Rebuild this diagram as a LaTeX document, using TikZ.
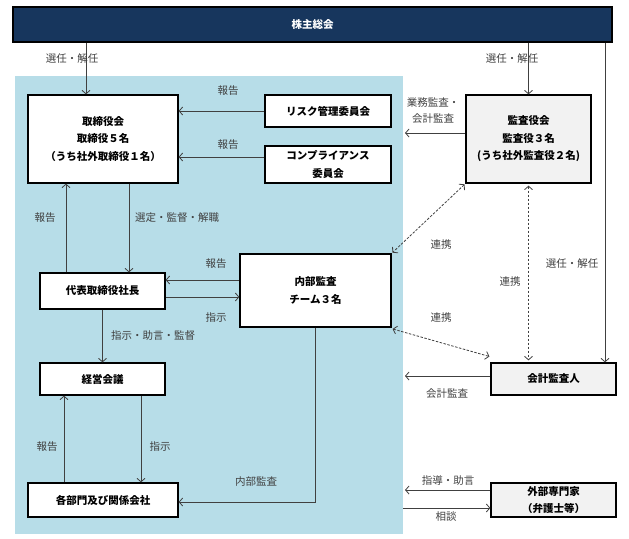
\documentclass[tikz,border=0pt]{standalone}
\usepackage{fontspec}
\setmainfont{Noto Sans CJK JP}
\usetikzlibrary{arrows.meta}

\definecolor{navy}{HTML}{17365D}
\definecolor{pale}{HTML}{B7DDE8}
\definecolor{boxgray}{HTML}{F2F2F2}
\definecolor{linegray}{HTML}{404040}

\begin{document}
\begin{tikzpicture}[x=1pt,y=-1pt,
        box/.style={draw=black,line width=1.3pt,fill=white,inner sep=0pt,align=center,
            font=\fontsize{10.5}{17.5}\selectfont\bfseries},
        graybox/.style={box,fill=boxgray},
        lbl/.style={inner sep=0pt,align=center,text=linegray,font=\fontsize{10.5}{16}\selectfont},
        arr/.style={draw=linegray,line width=0.8pt,-{Straight Barb[length=3.5pt,width=8pt]}},
        link/.style={draw=linegray,line width=0.8pt,dash pattern=on 2.5pt off 1.5pt,
            {Straight Barb[length=3.5pt,width=8pt]}-{Straight Barb[length=3.5pt,width=8pt]}}]

    % 画面の大きさ
    \useasboundingbox (0,0) rectangle (629,538);

    % 青い背景 (社内)
    \fill[pale] (15,76) rectangle (403,534);
    \coordinate (rim) at (405,0);
    \coordinate (rimL) at (403,0);

    % 株主総会
    \node[box,fill=navy,text=white,minimum width=599pt,minimum height=35pt] (soukai) at (312.5,24.5) {株主総会};

    % 箱
    \node[box,minimum width=150pt,minimum height=88pt] (board) at (103,139) {取締役会\\取締役５名\\（うち社外取締役１名）};
    \node[box,minimum width=126pt,minimum height=32pt] (risk) at (328,111) {リスク管理委員会};
    \node[box,minimum width=126pt,minimum height=37pt] (comp) at (328,164.5) {コンプライアンス\\委員会};
    \node[graybox,minimum width=125pt,minimum height=88pt] (kansa) at (528.5,139) {監査役会\\監査役３名\\(うち社外監査役２名)};
    \node[box,minimum width=125pt,minimum height=36pt] (ceo) at (102.5,291) {代表取締役社長};
    \node[box,minimum width=151pt,minimum height=73pt] (naibu) at (315.5,290.5) {内部監査\\チーム３名};
    \node[box,minimum width=125pt,minimum height=32pt] (keiei) at (102.5,379) {経営会議};
    \node[box,minimum width=150pt,minimum height=34pt] (bumon) at (103,500) {各部門及び関係会社};
    \node[graybox,minimum width=125pt,minimum height=32pt] (kaikei) at (553.5,379) {会計監査人};
    \node[graybox,minimum width=125pt,minimum height=34pt] (gaibu) at (553.5,500) {外部専門家\\（弁護士等）};

    % 株主総会からの矢印
    \draw[arr] ([xshift=-17pt]board.north |- soukai.south) -- ([xshift=-17pt]board.north);
    \draw[arr] (kansa.north |- soukai.south) -- (kansa.north);
    \draw[arr] ([xshift=51.5pt]kaikei.north |- soukai.south) -- ([xshift=51.5pt]kaikei.north);

    % 委員会 -> 取締役会
    \draw[arr] (risk.west) -- (risk.west -| board.east);
    \draw[arr] ([yshift=7.5pt]comp.west) -- ([yshift=7.5pt]comp.west -| board.east);

    % 監査役会 -> 社内
    \draw[arr] ([yshift=6pt]kansa.west) -- ([yshift=6pt]kansa.west -| rim);

    % 取締役会 <-> 社長
    \draw[arr] ([xshift=26pt]board.south) -- ([xshift=26pt]board.south |- ceo.north);
    \draw[arr] ([xshift=-37pt]board.south |- ceo.north) -- ([xshift=-37pt]board.south);

    % 社長 <-> 内部監査
    \draw[arr] ([yshift=10.5pt]naibu.west) -- ([yshift=10.5pt]naibu.west -| ceo.east);
    \draw[arr] ([yshift=-6.5pt]naibu.west -| ceo.east) -- ([yshift=-6.5pt]naibu.west);

    % 社長 -> 経営会議 <-> 各部門
    \draw[arr] (ceo.south) -- (keiei.north);
    \draw[arr] ([xshift=38.5pt]keiei.south) -- ([xshift=38.5pt]keiei.south |- bumon.north);
    \draw[arr] ([xshift=-38.5pt]keiei.south |- bumon.north) -- ([xshift=-38.5pt]keiei.south);

    % 内部監査 -> 各部門
    \draw[arr] (naibu.south) |- ([yshift=-2pt]bumon.east);

    % 連携 (点線)
    \draw[link,shorten <=1pt,shorten >=1pt] (kansa.south west) -- (naibu.north east);
    \draw[link,shorten <=2pt,shorten >=2pt] (kansa.south) -- (kansa.south |- kaikei.north);
    \draw[link,shorten <=1pt,shorten >=3pt] ([yshift=-1pt]naibu.south east) -- ([xshift=2pt,yshift=5pt]kaikei.north west);

    % 会計監査人・外部専門家
    \draw[arr] ([yshift=3pt]kaikei.west) -- ([yshift=3pt]kaikei.west -| rim);
    \draw[arr] ([yshift=10pt]gaibu.west) -- ([yshift=10pt]gaibu.west -| rim);
    \draw[arr] ([yshift=-8pt]gaibu.west -| rimL) -- ([yshift=-8pt]gaibu.west);

    % ラベル
    \node[lbl] (l1) at (72,59) {選任・解任};
    \node[lbl] (l2) at (512,59) {選任・解任};
    \node[lbl] (l3) at (572,264) {選任・解任};
    \node[lbl] (l4) at (228,91) {報告};
    \node[lbl] (l5) at (228,145) {報告};
    \node[lbl] (l6) at (433,110.5) {業務監査・\\会計監査};
    \node[lbl] (l7) at (177,218) {選定・監督・解職};
    \node[lbl] (l8) at (45,218) {報告};
    \node[lbl] (l9) at (216,264) {報告};
    \node[lbl] (l10) at (216,318) {指示};
    \node[lbl] (l11) at (153,336) {指示・助言・監督};
    \node[lbl] (l12) at (160,447) {指示};
    \node[lbl] (l13) at (47,447) {報告};
    \node[lbl] (l14) at (256,482) {内部監査};
    \node[lbl] (l15) at (441,245) {連携};
    \node[lbl] (l16) at (510,282) {連携};
    \node[lbl] (l17) at (441,318) {連携};
    \node[lbl] (l18) at (447,394) {会計監査};
    \node[lbl] (l19) at (448,481) {指導・助言};
    \node[lbl] (l20) at (446,517) {相談};

\end{tikzpicture}
\end{document}
